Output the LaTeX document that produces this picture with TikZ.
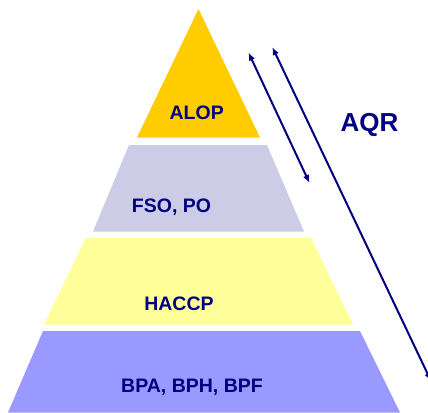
\documentclass[tikz,border=0pt]{standalone}
\usepackage{fontspec}
\setmainfont{Liberation Sans}
\usetikzlibrary{arrows.meta}
\definecolor{navy}{HTML}{000080}
\definecolor{gold}{HTML}{FFCC00}
\definecolor{lavender}{HTML}{CCCCE6}
\definecolor{paleyellow}{HTML}{FFFF99}
\definecolor{periwinkle}{HTML}{9999FF}
\begin{document}
\begin{tikzpicture}[x=1pt,y=-1pt,
  tierlabel/.style={anchor=base,inner sep=0pt,text=navy,
    font=\fontsize{19.5}{23}\selectfont\bfseries},
  scopelabel/.style={anchor=base,inner sep=0pt,text=navy,
    font=\fontsize{26}{30}\selectfont\bfseries},
  spanarrow/.style={draw=navy,line width=2pt,
    {Latex[length=8pt,width=6.5pt]}-{Latex[length=8pt,width=6.5pt]}}]
\useasboundingbox (0,0) rectangle (428,412);
\clip (0,0) rectangle (428,412);
% pyramid tiers, top to bottom
\fill[gold] (198.5,9) -- (260,137.5) -- (137,137.5) -- cycle;
\fill[lavender] (129,145) -- (267,145) -- (304,231.5) -- (93,231.5) -- cycle;
\fill[paleyellow] (86,238) -- (311,238) -- (353,324.5) -- (44,324.5) -- cycle;
\fill[periwinkle] (43,331) -- (360,331) -- (400,412.5) -- (8,412.5) -- cycle;
% tier labels
\node[tierlabel] (alop) at (196.7,119.3) {ALOP};
\node[tierlabel] (fso) at (171.5,212) {FSO, PO};
\node[tierlabel] (haccp) at (179,310) {HACCP};
\node[tierlabel] (bp) at (192,392) {BPA, BPH, BPF};
\node[scopelabel] (aqr) at (369.5,131) {AQR};
% span arrows
\coordinate (shortTop) at (248.5,52.5);
\coordinate (shortBot) at (309.5,183);
\coordinate (longTop) at (272.3,47);
\coordinate (longBot) at (431,381);
\draw[spanarrow] (shortTop) -- (shortBot);
\draw[spanarrow] (longTop) -- (longBot);
\end{tikzpicture}
\end{document}
